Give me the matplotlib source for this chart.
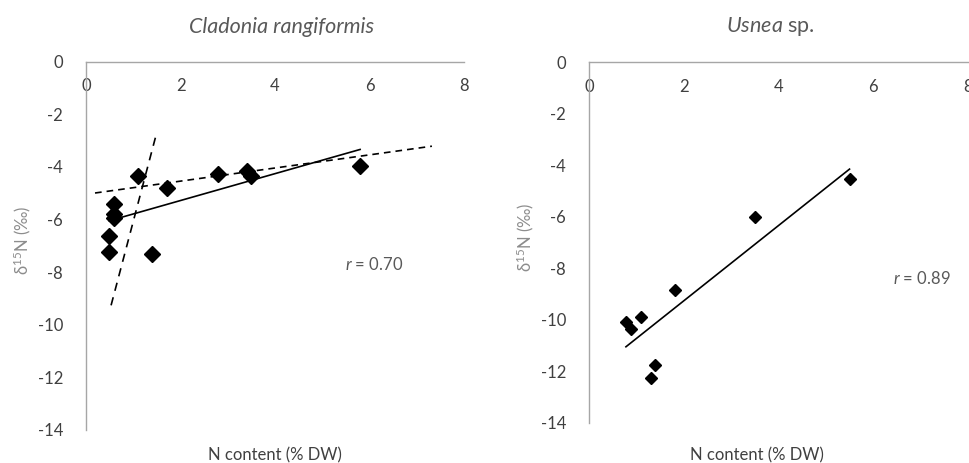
import matplotlib.pyplot as plt
import numpy as np

plt.rcParams['font.family'] = ['Lato', 'DejaVu Sans']
plt.rcParams['mathtext.fontset'] = 'custom'
plt.rcParams['mathtext.rm'] = 'Lato'
plt.rcParams['mathtext.it'] = 'Lato:italic'

# Cladonia rangiformis
clad_n = [1.11, 1.71, 2.80, 3.40, 3.49, 5.80, 0.59, 0.59, 0.59, 0.49, 0.49, 1.40]
clad_d15n = [-4.35, -4.80, -4.25, -4.14, -4.35, -3.95, -5.39, -5.77, -5.94, -6.61, -7.23, -7.31]
# dashed lines
clad_dash1_x = [0.19, 7.32]
clad_dash1_y = [-4.99, -3.21]
clad_dash2_x = [0.53, 1.47]
clad_dash2_y = [-9.26, -2.87]

# Usnea sp.
usn_n = [0.78, 0.89, 1.10, 1.81, 3.51, 5.50, 1.40, 1.31]
usn_d15n = [-10.08, -10.35, -9.88, -8.85, -6.00, -4.55, -11.76, -12.25]

xticks = [0, 2, 4, 6, 8]
yticks = [0, -2, -4, -6, -8, -10, -12, -14]

gray_axis = '#a6a6a6'
txt = '#404040'

fig = plt.figure(figsize=(9.7, 4.63), dpi=100)
ax1 = fig.add_axes([0.0887, 0.0713, 0.3897, 0.7953])
ax2 = fig.add_axes([0.6072, 0.0870, 0.3907, 0.7790])


def style(ax):
    ax.set_xlim(0, 8)
    ax.set_ylim(-14, 0)
    ax.set_xticks(xticks)
    ax.set_yticks(yticks)
    ax.set_yticklabels([str(t) for t in yticks])
    for s in ['right', 'bottom']:
        ax.spines[s].set_visible(False)
    for s in ['top', 'left']:
        ax.spines[s].set_color(gray_axis)
        ax.spines[s].set_linewidth(1.0)
    ax.tick_params(axis='x', top=False, bottom=False, labeltop=True,
                   labelbottom=False, pad=-27, labelsize=12, labelcolor=txt)
    ax.tick_params(axis='y', left=False, pad=13, labelsize=12, labelcolor=txt)
    ax.patch.set_alpha(0)


def fit_line(ax, x, y):
    k, b = np.polyfit(x, y, 1)
    xs = np.array([min(x), max(x)])
    ax.plot(xs, k * xs + b, color='black', lw=1.2)


style(ax1)
ax1.plot(clad_dash1_x, clad_dash1_y, color='black', lw=1.2, ls=(0, (4, 3)))
ax1.plot(clad_dash2_x, clad_dash2_y, color='black', lw=1.2, ls=(0, (5, 4)))
fit_line(ax1, clad_n, clad_d15n)
ax1.plot(clad_n, clad_d15n, 'D', color='black', ms=7.8, ls='none')
ax1.text(6.1, -7.7, '$r$ = 0.70', fontsize=12, color='#595959', ha='center', va='center')

style(ax2)
fit_line(ax2, usn_n, usn_d15n)
ax2.plot(usn_n, usn_d15n, 'D', color='black', ms=6.3, ls='none')
ax2.text(7.03, -8.4, '$r$ = 0.89', fontsize=12, color='#595959', ha='center', va='center')

# titles and labels
fig.text(282 / 970, 1 - 27 / 463, 'Cladonia rangiformis', fontsize=15.5, style='italic',
         color='#595959', ha='center', va='center')
fig.text(770 / 970, 1 - 27 / 463, '$Usnea$ sp.', fontsize=15.5,
         color='#595959', ha='center', va='center')
fig.text(275 / 970, 1 - 455 / 463, 'N content (% DW)', fontsize=12,
         color=txt, ha='center', va='center')
fig.text(757 / 970, 1 - 455 / 463, 'N content (% DW)', fontsize=12,
         color=txt, ha='center', va='center')
fig.text(22 / 970, 1 - 240 / 463, 'δ$^{15}$N (‰)', fontsize=12, rotation=90,
         color='#8c8c8c', ha='center', va='center')
fig.text(525 / 970, 1 - 237 / 463, 'δ$^{15}$N (‰)', fontsize=12, rotation=90,
         color='#8c8c8c', ha='center', va='center')

fig.savefig('out.png', dpi=100)
